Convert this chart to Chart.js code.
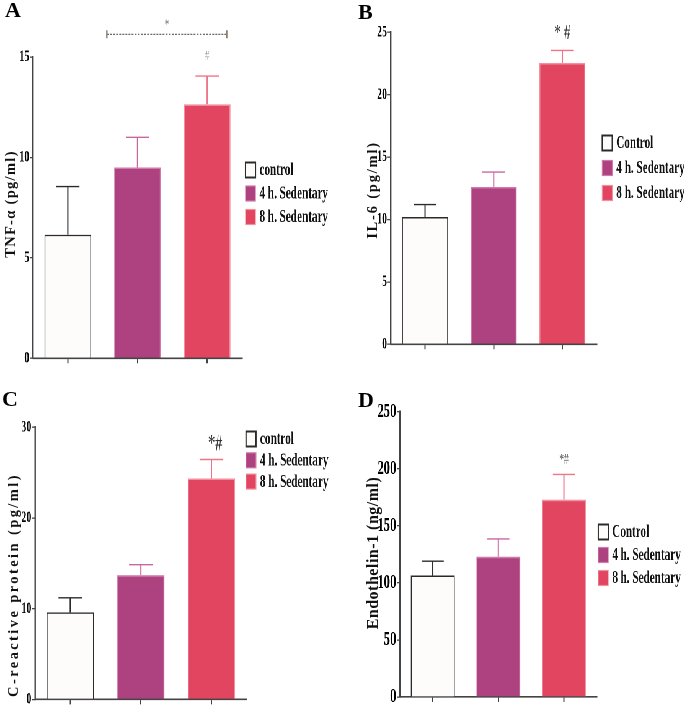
<!DOCTYPE html>
<html><head><meta charset="utf-8">
<script src="https://cdn.jsdelivr.net/npm/chart.js@4.4.1/dist/chart.umd.min.js"></script>
<style>
html,body{margin:0;padding:0;background:#fff;overflow:hidden;width:685px;height:710px;}
#stage{position:absolute;left:0;top:0;width:1105px;height:710px;transform:scaleX(0.62);transform-origin:0 0;}
#stage canvas{position:absolute;}
.letter{position:absolute;font-family:"Liberation Serif",serif;font-weight:bold;font-size:22px;line-height:1;color:#000;}
.ytitle{position:absolute;font-family:"Liberation Serif",serif;font-weight:bold;white-space:nowrap;line-height:1;color:#111;transform:translate(-50%,-50%) rotate(-90deg);}
</style></head>
<body>
<div id="stage"></div>
<div id="overlay"></div>
<script>
// ---------------- data ----------------
const catA = ['control', '4 h. Sedentary', '8 h. Sedentary'];
const valA = [6.15, 9.5, 12.65];
const errA = [2.4, 1.5, 1.4];
const tickA = [0, 5, 10, 15];

const catB = ['Control', '4 h. Sedentary', '8 h. Sedentary'];
const valB = [10.2, 12.6, 22.55];
const errB = [1.0, 1.2, 1.0];
const tickB = [0, 5, 10, 15, 20, 25];

const catC = ['control', '4 h. Sedentary', '8 h. Sedentary'];
const valC = [9.6, 13.7, 24.35];
const errC = [1.6, 1.15, 2.1];
const tickC = [0, 10, 20, 30];

const catD = ['Control', '4 h. Sedentary', '8 h. Sedentary'];
const valD = [106.5, 123, 173];
const errD = [12.5, 15.5, 22];
const tickD = [0, 50, 100, 150, 200, 250];

const titleA = 'TNF-α (pg/ml)';
const titleB = 'IL-6 (pg/ml)';
const titleC = 'C-reactive protein (pg/ml)';
const titleD = 'Endothelin-1 (ng/ml)';
const letters = ['A', 'B', 'C', 'D'];

// ---------------- styles / layout ----------------
const S = 0.62;
const fills = ['#fdfcfa', '#ae4280', '#e1455f'];
const borders = ['#2a2a2a', '#d07aa9', '#f2909f'];
const errColors = ['#2a2a2a', '#c966a0', '#ee7488'];
const FONT = '"Liberation Serif", "Times New Roman", serif';

const panels = [
  {cats: catA, vals: valA, errs: errA, ticks: tickA, title: titleA, letter: letters[0],
   quad: {x: 0, y: 0, w: 340, h: 370}, area: {l: 33, r: 242, t: 57, b: 358.3},
   legend: {x: 245.5, y: 170, gap: 23.5}, tfont: 16,
   ttl: {x: 9.5, y: 204, fs: 14.5, ls: 1.3}, let: {x: 5, y: 3},
   marks: [{i: 2, text: '#', dy: 20, dx: 0, fs: 13, color: '#888'}],
   bracket: {i0: 1, f0: -0.44, i1: 2, f1: 0.28, y: 34.3, text: '*', ty: 25}},
  {cats: catB, vals: valB, errs: errB, ticks: tickB, title: titleB, letter: letters[1],
   quad: {x: 340, y: 0, w: 345, h: 370}, area: {l: 390.7, r: 596.7, t: 32.3, b: 344.3},
   legend: {x: 602.5, y: 143, gap: 25}, tfont: 16,
   ttl: {x: 372, y: 190, fs: 14.5, ls: 1.8}, let: {x: 358, y: 5},
   marks: [{i: 2, text: '* #', dy: 17, dx: 0, fs: 21, color: '#333'}]},
  {cats: catC, vals: valC, errs: errC, ticks: tickC, title: titleC, letter: letters[2],
   quad: {x: 0, y: 370, w: 340, h: 340}, area: {l: 35, r: 246.7, t: 427.3, b: 703.3},
   legend: {x: 246, y: 439, gap: 21.3}, tfont: 16,
   ttl: {x: 13, y: 585, fs: 14.5, ls: 2.4}, let: {x: 2, y: 392},
   marks: [{i: 2, text: '*#', dy: 15, dx: 6, fs: 23, color: '#333'}]},
  {cats: catD, vals: valD, errs: errD, ticks: tickD, title: titleD, letter: letters[3],
   quad: {x: 340, y: 370, w: 345, h: 340}, area: {l: 400, r: 596.7, t: 411.7, b: 702.3},
   legend: {x: 598.5, y: 532, gap: 23}, tfont: 20,
   ttl: {x: 372.5, y: 553, fs: 16, ls: 0.5}, let: {x: 358, y: 393},
   marks: [{i: 2, text: '*#', dy: 15, dx: 0, fs: 15, color: '#555'}]}
];

const stage = document.getElementById('stage');
const overlay = document.getElementById('overlay');

panels.forEach(P => {
  // HTML overlay text (unscaled)
  const L = document.createElement('div');
  L.className = 'letter';
  L.textContent = P.letter;
  L.style.left = P.let.x + 'px';
  L.style.top = (P.let.y - 0.175 * 22) + 'px';
  overlay.appendChild(L);
  const T = document.createElement('div');
  T.className = 'ytitle';
  T.textContent = P.title;
  T.style.left = P.ttl.x + 'px';
  T.style.top = P.ttl.y + 'px';
  T.style.fontSize = P.ttl.fs + 'px';
  T.style.letterSpacing = P.ttl.ls + 'px';
  overlay.appendChild(T);

  // canvas in design coordinates (stage is scaled by S horizontally)
  const left = Math.round(P.quad.x / S);
  const cw = Math.round(P.quad.w / S);
  const ch = P.quad.h;
  const top = P.quad.y;
  const cv = document.createElement('canvas');
  cv.width = cw; cv.height = ch;
  cv.style.left = left + 'px'; cv.style.top = top + 'px';
  stage.appendChild(cv);

  const aL = P.area.l / S - left, aR = P.area.r / S - left;
  const aT = P.area.t - top, aB = P.area.b - top;
  const yW = 46;
  const xH = Math.min(10, ch - aB - 1);

  const extras = {
    id: 'extras',
    afterDatasetsDraw(chart) {
      const ctx = chart.ctx;
      const meta = chart.getDatasetMeta(0);
      const ys = chart.scales.y;
      ctx.save();
      meta.data.forEach((bar, i) => {
        const v = P.vals[i], e = P.errs[i];
        const yTop = ys.getPixelForValue(v + e);
        const y0 = ys.getPixelForValue(v);
        const capW = bar.width * 0.5;
        ctx.strokeStyle = errColors[i];
        ctx.lineWidth = 2;
        ctx.beginPath(); ctx.moveTo(bar.x, y0); ctx.lineTo(bar.x, yTop); ctx.stroke();
        ctx.lineWidth = 1.4;
        ctx.beginPath(); ctx.moveTo(bar.x - capW / 2, yTop); ctx.lineTo(bar.x + capW / 2, yTop); ctx.stroke();
      });
      ctx.restore();
    },
    afterDraw(chart) {
      const ctx = chart.ctx;
      const xs = chart.scales.x, ys = chart.scales.y;
      const bw = (chart.chartArea.right - chart.chartArea.left) / P.cats.length;
      ctx.save();
      // legend
      const lx = (P.legend.x - P.quad.x) / S;
      P.cats.forEach((c, i) => {
        const cy = P.legend.y - top + i * P.legend.gap;
        const bwid = 10 / S, bh = 15;
        ctx.fillStyle = fills[i];
        ctx.fillRect(lx, cy - bh / 2, bwid, bh);
        ctx.strokeStyle = borders[i];
        ctx.lineWidth = i === 0 ? 2 : 1.2;
        ctx.strokeRect(lx, cy - bh / 2, bwid, bh);
        ctx.fillStyle = '#111';
        ctx.font = 'bold 18px ' + FONT;
        ctx.textAlign = 'left';
        ctx.textBaseline = 'middle';
        ctx.fillText(c, lx + 14 / S, cy + 0.5);
      });
      // significance marks
      P.marks.forEach(m => {
        const x = xs.getPixelForValue(m.i) + m.dx;
        const yTop = ys.getPixelForValue(P.vals[m.i] + P.errs[m.i]);
        ctx.fillStyle = m.color;
        ctx.font = m.fs + 'px ' + FONT;
        ctx.textAlign = 'center';
        ctx.textBaseline = 'middle';
        ctx.fillText(m.text, x, yTop - m.dy);
      });
      if (P.bracket) {
        const B = P.bracket;
        const x0 = xs.getPixelForValue(B.i0) + B.f0 * bw;
        const x1 = xs.getPixelForValue(B.i1) + B.f1 * bw;
        const y = B.y - top;
        ctx.strokeStyle = '#555';
        ctx.lineWidth = 1.2;
        ctx.setLineDash([3, 2]);
        ctx.beginPath(); ctx.moveTo(x0, y); ctx.lineTo(x1, y); ctx.stroke();
        ctx.setLineDash([]);
        ctx.strokeStyle = '#8a8070';
        ctx.lineWidth = 2.4;
        ctx.beginPath();
        ctx.moveTo(x0, y - 4); ctx.lineTo(x0, y + 4);
        ctx.moveTo(x1, y - 4); ctx.lineTo(x1, y + 4);
        ctx.stroke();
        ctx.fillStyle = '#666';
        ctx.font = '14px ' + FONT;
        ctx.textAlign = 'center';
        ctx.textBaseline = 'middle';
        ctx.fillText(B.text, (x0 + x1) / 2, B.ty - top);
      }
      ctx.restore();
    }
  };

  new Chart(cv, {
    type: 'bar',
    data: {
      labels: P.cats,
      datasets: [{
        data: P.vals,
        backgroundColor: fills,
        borderColor: borders,
        borderWidth: 1.5,
        barPercentage: 0.67,
        categoryPercentage: 1
      }]
    },
    options: {
      responsive: false,
      animation: false,
      devicePixelRatio: 2,
      layout: {autoPadding: false, padding: {left: aL - yW, right: cw - aR, top: aT, bottom: ch - aB - xH}},
      plugins: {legend: {display: false}, tooltip: {enabled: false}},
      scales: {
        x: {
          offset: true,
          grid: {display: true, drawOnChartArea: false, offset: false, tickLength: 5, color: '#444', lineWidth: 2},
          border: {display: true, color: '#444', width: 1.6},
          ticks: {callback: () => '', padding: 0},
          afterFit: s => { s.height = xH; }
        },
        y: {
          min: P.ticks[0],
          max: P.ticks[P.ticks.length - 1],
          afterBuildTicks: s => { s.ticks = P.ticks.map(v => ({value: v})); },
          grid: {display: true, drawOnChartArea: false, tickLength: 5, color: '#444', lineWidth: 1.3},
          border: {display: true, color: '#444', width: 2.4},
          ticks: {color: '#000', padding: 1, font: {family: FONT, weight: 'bold', size: P.tfont}},
          afterFit: s => { s.width = yW; }
        }
      }
    },
    plugins: [extras]
  });
});
</script>
</body></html>
